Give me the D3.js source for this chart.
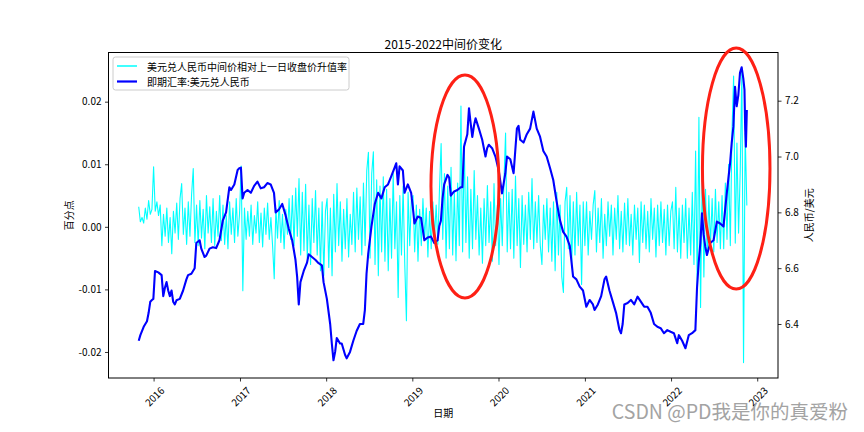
<!DOCTYPE html>
<html><head><meta charset="utf-8">
<script src="https://cdn.jsdelivr.net/npm/d3@7"></script>
<style>
body{margin:0;background:#fff}
svg{display:block}
text{font-family:"Noto Sans CJK SC","Noto Sans",sans-serif;fill:#000}
</style>
</head><body>
<svg id="chart" width="864" height="432"></svg>
<script>
// ---------------- DATA ----------------
const chartTitle = "2015-2022中间价变化";
const seriesNames = ["美元兑人民币中间价相对上一日收盘价升值率", "即期汇率:美元兑人民币"];
const xLabel = "日期";
const yLeftLabel = "百分点";
const yRightLabel = "人民币/美元";
const watermark = "CSDN @PD我是你的真爱粉";
const xTickYears = [2016, 2017, 2018, 2019, 2020, 2021, 2022, 2023];
const leftTicks = [-0.02, -0.01, 0.00, 0.01, 0.02];
const rightTicks = [6.4, 6.6, 6.8, 7.0, 7.2];

// weekly samples of midpoint change vs previous close, first sample date:
const midStart = "2015-10-30";
const mid2015 = [0.0032,0.0008,0.0015,0.0006,0.0030,0.0012,0.0042,0.0020,0.0028];
const mid2016 = [0.0096,0.0025,0.0040,0.0018,0.0035,-0.0030,0.0020,-0.0015,0.0030,-0.0025,
 0.0015,-0.0043,0.0025,-0.0010,0.0038,-0.0020,0.0045,0.0069,-0.0012,0.0030,
 -0.0028,0.0040,-0.0015,0.0052,0.0093,-0.0025,0.0035,-0.0030,0.0042,-0.0018,
 0.0028,-0.0035,0.0050,-0.0010,0.0032,-0.0025,0.0045,-0.0030,0.0025,-0.0015,
 0.0050,-0.0022,0.0035,-0.0028,0.0018,-0.0035,0.0040,-0.0012,0.0030,-0.0025,
 0.0045,-0.0015,0.0020];
const mid2017 = [0.0097,-0.0102,0.0030,-0.0020,0.0025,-0.0015,0.0035,-0.0028,0.0018,-0.0010,
 0.0040,-0.0025,0.0022,-0.0032,0.0030,-0.0012,0.0038,-0.0020,0.0015,-0.0030,
 -0.0083,0.0030,-0.0018,0.0042,-0.0025,0.0020,-0.0035,0.0028,-0.0012,0.0045,
 -0.0020,0.0050,-0.0030,0.0062,-0.0015,0.0077,-0.0045,0.0055,-0.0038,0.0068,
 -0.0050,0.0035,-0.0060,0.0045,-0.0025,0.0058,-0.0045,0.0030,-0.0070,0.0040,
 -0.0078,0.0025];
const mid2018 = [0.0045,-0.0065,0.0030,-0.0078,0.0052,-0.0040,0.0069,-0.0030,0.0040,-0.0055,
 0.0028,-0.0035,0.0045,-0.0048,0.0020,-0.0028,0.0055,-0.0040,0.0062,-0.0020,
 0.0048,-0.0045,0.0070,-0.0030,0.0090,0.0119,-0.0050,0.0085,0.0120,-0.0060,
 0.0075,-0.0078,0.0065,-0.0040,0.0080,-0.0055,0.0060,-0.0070,0.0045,-0.0050,
 0.0085,-0.0035,0.0040,-0.0113,0.0050,-0.0045,0.0065,-0.0060,-0.0150,0.0055,
 -0.0030,0.0045];
const mid2019 = [0.0050,-0.0040,0.0035,-0.0055,0.0028,-0.0030,0.0045,-0.0020,0.0030,-0.0048,
 0.0025,-0.0035,0.0040,-0.0015,0.0035,-0.0028,0.0060,0.0133,-0.0020,0.0085,
 -0.0050,0.0065,-0.0035,0.0095,-0.0045,0.0055,-0.0054,0.0070,-0.0030,0.0193,
 -0.0040,0.0134,-0.0025,0.0080,-0.0050,0.0060,-0.0035,0.0090,-0.0020,0.0050,
 -0.0045,0.0030,-0.0058,0.0045,-0.0030,0.0066,-0.0025,0.0040,-0.0055,0.0069,
 -0.0030,0.0035];
const mid2020 = [-0.0060,0.0045,-0.0030,0.0070,0.0150,-0.0040,0.0055,-0.0035,0.0060,-0.0050,
 0.0081,-0.0030,0.0045,-0.0065,0.0050,-0.0028,0.0035,-0.0040,0.0055,-0.0020,
 0.0077,-0.0035,0.0040,-0.0025,0.0050,-0.0030,-0.0060,0.0035,-0.0020,0.0045,
 -0.0040,0.0030,-0.0055,0.0040,-0.0070,0.0055,-0.0045,0.0035,-0.0080,-0.0105,
 0.0040,0.0063,-0.0035,0.0050,-0.0060,0.0040,-0.0045,0.0055,-0.0030,0.0035,
 -0.0092,0.0040];
const mid2021 = [-0.0030,0.0040,-0.0045,0.0025,-0.0020,0.0035,0.0058,-0.0040,0.0030,-0.0025,
 0.0045,-0.0050,0.0020,-0.0030,0.0040,-0.0015,0.0035,-0.0045,0.0030,-0.0020,
 0.0050,-0.0035,0.0025,-0.0040,0.0038,-0.0028,0.0045,-0.0030,0.0020,-0.0045,
 0.0035,-0.0020,0.0030,-0.0057,0.0040,-0.0025,0.0035,-0.0035,0.0025,-0.0040,
 0.0045,-0.0020,0.0030,-0.0048,0.0035,-0.0030,0.0040,-0.0025,0.0028,-0.0045,
 0.0035,-0.0030,0.0025];
const mid2022 = [0.0040,-0.0035,0.0063,-0.0040,0.0030,-0.0050,0.0035,-0.0025,0.0045,-0.0050,
 0.0030,-0.0045,0.0055,-0.0060,0.0121,-0.0100,0.0175,-0.0129,0.0085,-0.0080,
 0.0060,-0.0045,0.0050,-0.0030,0.0045,-0.0040,0.0060,-0.0025,0.0040,-0.0035,
 0.0050,-0.0035,0.0070,-0.0020,0.0100,-0.0030,0.0150,0.0241,-0.0026,0.0134,
 -0.0010,0.0090,0.0250,-0.0217,0.0150,0.0034];

// spot USD/CNY
const spotDates = ["2015-10-30","2015-11-06","2015-11-20","2015-12-04","2015-12-11","2015-12-18","2015-12-25","2015-12-31",
"2016-01-07","2016-01-21","2016-02-04","2016-02-11","2016-02-18","2016-02-25","2016-03-03","2016-03-10","2016-03-17","2016-03-24","2016-03-31","2016-04-07","2016-04-21","2016-05-05","2016-05-19","2016-05-26","2016-06-09","2016-06-23","2016-06-30","2016-07-14","2016-07-21","2016-08-04","2016-08-11","2016-08-25","2016-09-08","2016-09-22","2016-10-06","2016-10-20","2016-11-03","2016-11-17","2016-11-24","2016-12-01","2016-12-08","2016-12-22","2016-12-29",
"2017-01-05","2017-01-12","2017-01-19","2017-02-02","2017-02-16","2017-03-02","2017-03-16","2017-03-30","2017-04-13","2017-04-27","2017-05-11","2017-05-25","2017-06-01","2017-06-15","2017-06-29","2017-07-13","2017-07-27","2017-08-10","2017-08-24","2017-08-31","2017-09-07","2017-09-14","2017-09-28","2017-10-12","2017-10-19","2017-11-02","2017-11-16","2017-11-30","2017-12-14","2017-12-21",
"2018-01-04","2018-01-18","2018-01-25","2018-02-01","2018-02-08","2018-02-15","2018-03-01","2018-03-08","2018-03-22","2018-03-29","2018-04-12","2018-04-26","2018-05-10","2018-05-24","2018-06-07","2018-06-14","2018-06-21","2018-06-28","2018-07-12","2018-07-26","2018-08-09","2018-08-23","2018-09-06","2018-09-20","2018-10-04","2018-10-18","2018-10-25","2018-11-01","2018-11-08","2018-11-22","2018-11-29","2018-12-13","2018-12-27",
"2019-01-03","2019-01-10","2019-01-24","2019-02-07","2019-02-21","2019-03-07","2019-03-21","2019-04-04","2019-04-18","2019-04-25","2019-05-02","2019-05-09","2019-05-16","2019-05-30","2019-06-06","2019-06-13","2019-06-27","2019-07-11","2019-07-25","2019-08-01","2019-08-08","2019-08-22","2019-08-29","2019-09-05","2019-09-12","2019-09-19","2019-09-26","2019-10-10","2019-10-24","2019-11-07","2019-11-14","2019-11-21","2019-12-05","2019-12-19",
"2020-01-02","2020-01-16","2020-01-30","2020-02-06","2020-02-20","2020-03-05","2020-03-19","2020-03-26","2020-04-02","2020-04-16","2020-04-30","2020-05-14","2020-05-28","2020-06-11","2020-06-25","2020-07-09","2020-07-23","2020-08-06","2020-08-20","2020-09-03","2020-09-17","2020-10-01","2020-10-15","2020-10-29","2020-11-12","2020-11-26","2020-12-10","2020-12-24",
"2021-01-07","2021-01-21","2021-02-04","2021-02-11","2021-02-25","2021-03-11","2021-03-25","2021-04-01","2021-04-15","2021-04-29","2021-05-13","2021-05-27","2021-06-03","2021-06-10","2021-06-17","2021-07-01","2021-07-15","2021-07-29","2021-08-12","2021-08-26","2021-09-09","2021-09-23","2021-10-07","2021-10-21","2021-11-04","2021-11-18","2021-12-02","2021-12-16","2021-12-30",
"2022-01-13","2022-01-27","2022-02-03","2022-02-17","2022-03-03","2022-03-17","2022-03-31","2022-04-14","2022-04-21","2022-04-28","2022-05-05","2022-05-12","2022-05-19","2022-05-26","2022-06-02","2022-06-16","2022-06-30","2022-07-14","2022-07-28","2022-08-11","2022-08-25","2022-09-08","2022-09-15","2022-09-22","2022-09-29","2022-10-06","2022-10-13","2022-10-20","2022-10-27","2022-11-03","2022-11-08","2022-11-11","2022-11-14","2022-11-18"];
const spotRates = [6.34,6.36,6.39,6.41,6.44,6.48,6.486,6.49,
6.59,6.585,6.575,6.50,6.53,6.55,6.52,6.50,6.52,6.48,6.47,6.485,6.49,6.52,6.56,6.575,6.58,6.60,6.69,6.70,6.67,6.64,6.645,6.67,6.675,6.672,6.70,6.77,6.80,6.89,6.88,6.89,6.90,6.952,6.958,
6.96,6.85,6.87,6.88,6.87,6.895,6.91,6.886,6.89,6.905,6.90,6.87,6.80,6.81,6.83,6.79,6.74,6.70,6.63,6.57,6.47,6.55,6.59,6.62,6.65,6.64,6.63,6.618,6.61,6.55,
6.49,6.40,6.33,6.27,6.30,6.35,6.33,6.33,6.29,6.277,6.30,6.34,6.375,6.40,6.40,6.45,6.58,6.65,6.75,6.83,6.87,6.85,6.89,6.90,6.93,6.96,6.976,6.90,6.965,6.95,6.87,6.90,6.87,
6.82,6.76,6.785,6.78,6.70,6.71,6.713,6.69,6.70,6.75,6.77,6.85,6.90,6.934,6.925,6.86,6.875,6.88,6.89,6.89,7.035,7.08,7.173,7.12,7.07,7.11,7.137,7.10,7.06,7.00,7.03,7.042,7.03,7.00,
6.95,6.868,6.94,7.00,6.99,6.94,7.10,7.11,7.06,7.05,7.08,7.10,7.161,7.10,7.071,7.02,7.00,6.96,6.916,6.84,6.773,6.73,6.713,6.68,6.57,6.56,6.534,6.52,
6.462,6.486,6.47,6.45,6.47,6.50,6.56,6.57,6.52,6.48,6.44,6.38,6.367,6.40,6.47,6.475,6.486,6.47,6.498,6.48,6.462,6.462,6.44,6.40,6.39,6.385,6.367,6.378,6.372,
6.367,6.331,6.36,6.34,6.313,6.36,6.367,6.378,6.53,6.62,6.689,6.797,6.72,6.677,6.647,6.69,6.70,6.767,6.76,6.749,6.868,6.976,7.05,7.107,7.25,7.18,7.22,7.30,7.32,7.28,7.24,7.10,7.035,7.167];

// annotation ellipses (centre date, centre rate on right axis, half-width days, half-height in rate)
const highlightDates = ["2019-08-12", "2022-10-04"];
const highlightRates = [6.893, 6.957];
const highlightHalfDays = [144, 143];
const highlightHalfRates = [0.3995, 0.4317];

// ---------------- CHART ----------------
const svg = d3.select("#chart");
const M = {l: 108.5, r: 778, t: 52.5, b: 378};
const parse = d3.timeParse("%Y-%m-%d");

const x = d3.scaleTime().domain([new Date(2015, 5, 24), new Date(2023, 2, 30)]).range([M.l, M.r]);
const yL = d3.scaleLinear().domain([-0.02416, 0.02786]).range([M.b, M.t]);
const yR = d3.scaleLinear().domain([6.2065, 7.3727]).range([M.b, M.t]);

const midValues = [].concat(mid2015, mid2016, mid2017, mid2018, mid2019, mid2020, mid2021, mid2022);
const start = parse(midStart);
const midData = midValues.map((v, i) => ({d: d3.timeDay.offset(start, 7 * i), v}));
const spotData = spotDates.map((s, i) => ({d: parse(s), v: spotRates[i]}));

svg.append("defs").append("clipPath").attr("id", "plotclip")
  .append("rect").attr("x", M.l).attr("y", M.t).attr("width", M.r - M.l).attr("height", M.b - M.t);

const plot = svg.append("g").attr("clip-path", "url(#plotclip)");
plot.append("path").datum(midData)
  .attr("fill", "none").attr("stroke", "#00ffff").attr("stroke-width", 1.1).attr("stroke-linejoin", "round")
  .attr("d", d3.line().x(d => x(d.d)).y(d => yL(d.v)));
plot.append("path").datum(spotData)
  .attr("fill", "none").attr("stroke", "#0000ff").attr("stroke-width", 2.1).attr("stroke-linejoin", "round")
  .attr("d", d3.line().x(d => x(d.d)).y(d => yR(d.v)));

// frame
svg.append("rect").attr("x", M.l).attr("y", M.t).attr("width", M.r - M.l).attr("height", M.b - M.t)
  .attr("fill", "none").attr("stroke", "#000").attr("stroke-width", 1);

function styleAxis(g) {
  g.select(".domain").remove();
  g.selectAll(".tick line").attr("stroke", "#000").attr("stroke-width", 0.8);
  g.selectAll(".tick text").attr("font-size", 10).attr("fill", "#000")
    .style("font-family", '"Noto Sans CJK SC","Noto Sans",sans-serif');
}

// x axis
const gx = svg.append("g").attr("transform", `translate(0,${M.b})`)
  .call(d3.axisBottom(x).tickValues(xTickYears.map(yv => new Date(yv, 0, 1)))
    .tickFormat(d3.timeFormat("%Y")).tickSize(3.5).tickPadding(3.5));
styleAxis(gx);
gx.selectAll(".tick text")
  .attr("y", 0).attr("dy", null)
  .attr("text-anchor", "middle").attr("dominant-baseline", "central")
  .attr("transform", "translate(0,18) rotate(-45)");

// left axis
const gl = svg.append("g").attr("transform", `translate(${M.l},0)`)
  .call(d3.axisLeft(yL).tickValues(leftTicks).tickFormat(d => d.toFixed(2)).tickSize(3.5).tickPadding(3.5));
styleAxis(gl);

// right axis
const gr = svg.append("g").attr("transform", `translate(${M.r},0)`)
  .call(d3.axisRight(yR).tickValues(rightTicks).tickFormat(d => d.toFixed(1)).tickSize(3.5).tickPadding(3.5));
styleAxis(gr);

// titles and labels
svg.append("text").attr("x", (M.l + M.r) / 2).attr("y", 43).attr("text-anchor", "middle")
  .attr("dominant-baseline", "central").attr("font-size", 12).text(chartTitle);
svg.append("text").attr("x", (M.l + M.r) / 2).attr("y", 412).attr("text-anchor", "middle")
  .attr("dominant-baseline", "central").attr("font-size", 10).text(xLabel);
svg.append("text").attr("transform", `translate(68,${(M.t + M.b) / 2}) rotate(-90)`).attr("text-anchor", "middle")
  .attr("dominant-baseline", "central").attr("font-size", 10).text(yLeftLabel);
svg.append("text").attr("transform", `translate(808,${(M.t + M.b) / 2}) rotate(-90)`).attr("text-anchor", "middle")
  .attr("dominant-baseline", "central").attr("font-size", 10).text(yRightLabel);

// legend
const lg = svg.append("g");
lg.append("rect").attr("x", 113).attr("y", 57).attr("width", 236).attr("height", 33).attr("rx", 2.5)
  .attr("fill", "#fff").attr("fill-opacity", 0.8).attr("stroke", "#cccccc").attr("stroke-width", 1);
const legendColors = ["#00ffff", "#0000ff"];
const legendWidths = [1.5, 2.2];
seriesNames.forEach((n, i) => {
  const yy = 66 + i * 15.5;
  lg.append("line").attr("x1", 117).attr("x2", 137).attr("y1", yy).attr("y2", yy)
    .attr("stroke", legendColors[i]).attr("stroke-width", legendWidths[i]);
  lg.append("text").attr("x", 147).attr("y", yy).attr("dominant-baseline", "central")
    .attr("font-size", 10).text(n);
});

// red highlight ellipses
highlightDates.forEach((s, i) => {
  const c = parse(s);
  const cx = x(c), cy = yR(highlightRates[i]);
  const rx = x(d3.timeDay.offset(c, highlightHalfDays[i])) - cx;
  const ry = yR(highlightRates[i] - highlightHalfRates[i]) - cy;
  svg.append("ellipse").attr("cx", cx).attr("cy", cy).attr("rx", rx).attr("ry", ry)
    .attr("fill", "none").attr("stroke", "#fe2015").attr("stroke-width", 3);
});

// watermark
svg.append("text").attr("x", 848).attr("y", 419).attr("text-anchor", "end")
  .attr("font-size", 19.5).attr("fill", "#a3a3a3").style("fill", "#a3a3a3").text(watermark);
</script>
</body></html>
